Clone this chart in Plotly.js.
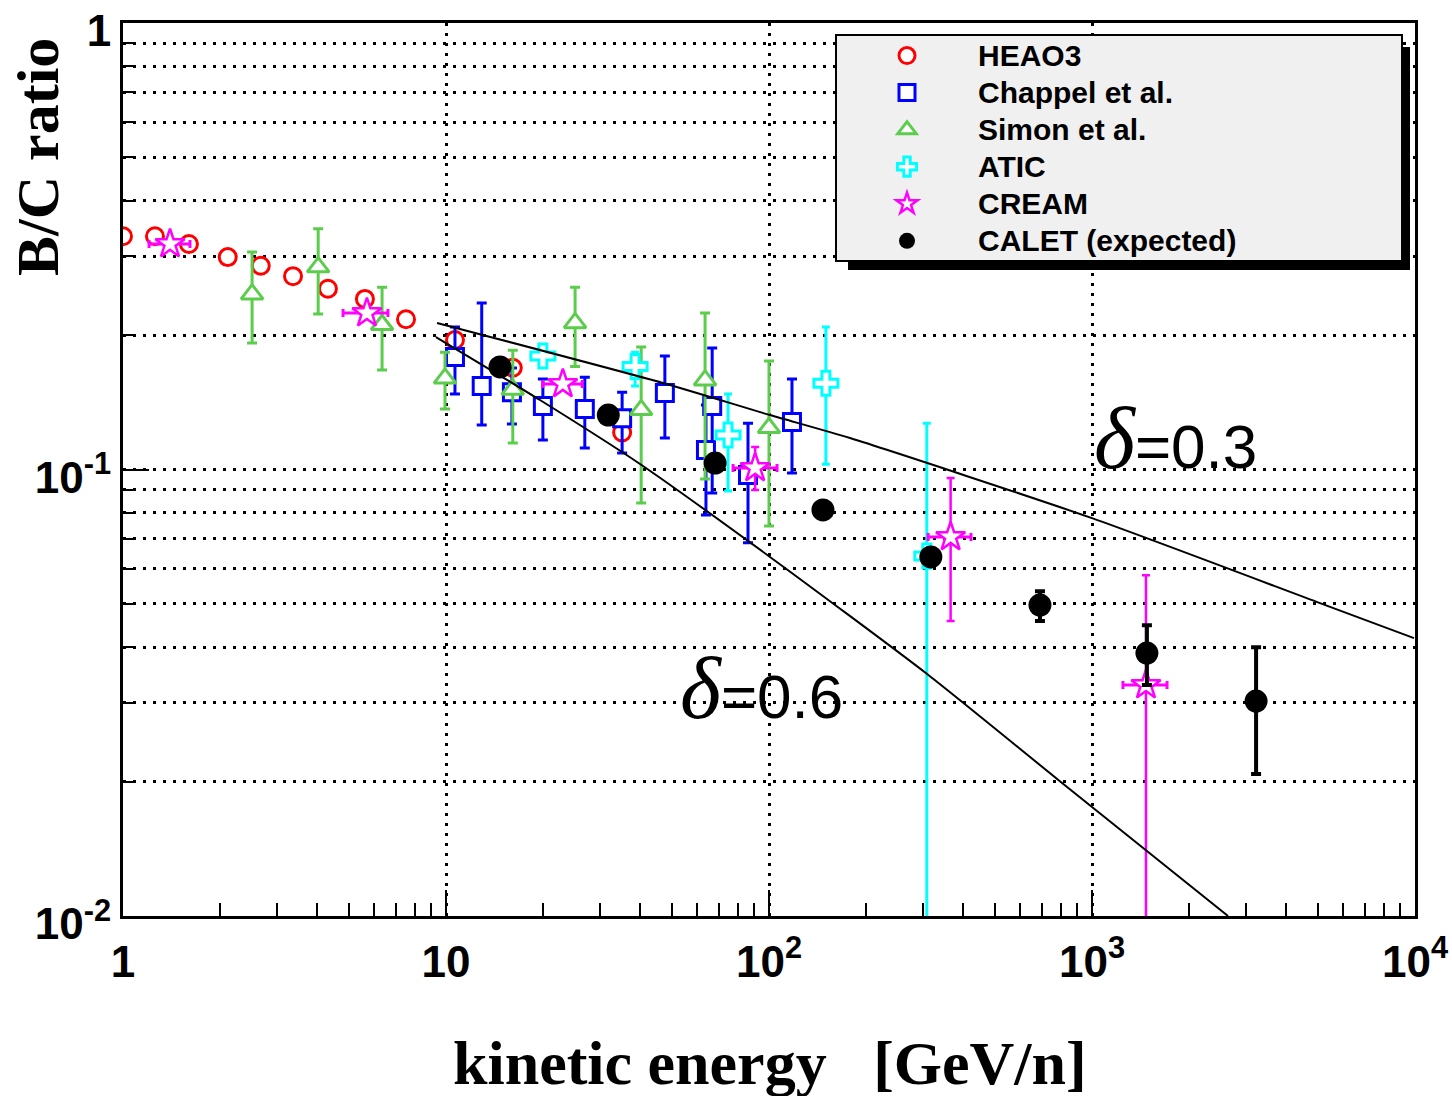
<!DOCTYPE html>
<html>
<head>
<meta charset="utf-8">
<script src="https://cdn.plot.ly/plotly-3.0.1.min.js"></script>
<style>html,body{margin:0;padding:0;background:#fff;}#chart{width:1452px;height:1096px;}</style>
</head>
<body>
<div id="chart"></div>
<script>
// ---------- data ----------
const heaoX = [1.0, 1.256, 1.60, 2.11, 2.67, 3.36, 4.31, 5.61, 7.52, 10.66, 16.1, 35.1];
const heaoY = [0.333, 0.333, 0.320, 0.299, 0.286, 0.271, 0.254, 0.241, 0.217, 0.195, 0.169, 0.121];

const chapX  = [10.66, 12.9, 16.0, 19.95, 26.9, 35.1, 47.6, 66.7, 63.8, 86.1, 117.8];
const chapY  = [0.1786, 0.1538, 0.149, 0.1387, 0.1366, 0.1303, 0.1483, 0.1387, 0.1106, 0.0972, 0.1277];
const chapHi = [0.2085, 0.236, 0.1687, 0.1595, 0.161, 0.149, 0.1795, 0.187, 0.1394, 0.127, 0.1595];
const chapLo = [0.1476, 0.1258, 0.1264, 0.1164, 0.1117, 0.1089, 0.1177, 0.0886, 0.0791, 0.0685, 0.0982];

const simonX  = [2.51, 4.02, 6.34, 9.93, 16.1, 25.1, 40.2, 63.4, 100];
const simonY  = [0.247, 0.284, 0.211, 0.160, 0.151, 0.213, 0.136, 0.1585, 0.124];
const simonHi = [0.307, 0.346, 0.256, 0.183, 0.185, 0.256, 0.188, 0.224, 0.175];
const simonLo = [0.192, 0.223, 0.167, 0.1366, 0.1146, 0.170, 0.0841, 0.0952, 0.0747];

const aticX  = [19.95, 38.5, 74.7, 150, 308];
const aticY  = [0.1795, 0.170, 0.1194, 0.156, 0.064];
const aticHi = [0.1795, 0.183, 0.1476, 0.2085, 0.127];
const aticLo = [0.1795, 0.1538, 0.0895, 0.1028, 0.001];

const creamX   = [1.398, 5.69, 23.0, 90.6, 365, 1469];
const creamY   = [0.320, 0.224, 0.1554, 0.1008, 0.0706, 0.0329];
const creamXLo = [1.204, 4.80, 19.95, 77.4, 311, 1247];
const creamXHi = [1.612, 6.61, 26.4, 105.9, 422, 1707];
const creamHi  = [0.320, 0.224, 0.1554, 0.1123, 0.0957, 0.058];
const creamLo  = [0.320, 0.224, 0.1554, 0.090, 0.0458, 0.001];

const caletX  = [14.7, 31.8, 68.1, 146.9, 317, 690, 1479, 3221];
const caletY  = [0.1697, 0.1324, 0.1034, 0.0812, 0.0637, 0.0497, 0.0388, 0.0303];
const caletHi = [0.1697, 0.1324, 0.1034, 0.0812, 0.0637, 0.0534, 0.0448, 0.0400];
const caletLo = [0.1697, 0.1324, 0.1034, 0.0812, 0.0637, 0.0458, 0.0329, 0.0208];

const d03X = [9.38, 46.97, 100.7, 178.1, 1000, 5080, 9929];
const d03Y = [0.2129, 0.1562, 0.1324, 0.1176, 0.0778, 0.0502, 0.0419];
const d06X = [9.31, 19.54, 39.87, 100.7, 310.7, 784.8, 2637];
const d06Y = [0.1980, 0.1431, 0.1029, 0.0637, 0.0347, 0.0202, 0.0100];

const legendNames = ['HEAO3', 'Chappel et al.', 'Simon et al.', 'ATIC', 'CREAM', 'CALET (expected)'];
const xTickVals = [1, 10, 100, 1000, 10000];
const xTickText = ['1', '10', '10<sup>2</sup>', '10<sup>3</sup>', '10<sup>4</sup>'];
const yTickVals = [0.01, 0.1, 1];
const yTickText = ['10<sup>-2</sup>', '10<sup>-1</sup>', '1'];
const curveLabels = ['=0.3', '=0.6'];

// ---------- helpers ----------
const up = (hi, v) => hi.map((h, i) => h - v[i]);
const dn = (lo, v) => lo.map((l, i) => v[i] - l);
function minorVals(from, to) {
  const out = [];
  for (let e = from; e < to; e++) for (let k = 2; k <= 9; k++) out.push(k * Math.pow(10, e));
  return out;
}
// plot area in pixels: left 123, right 1415, top 23, bottom 916
const PL = 123, PR = 1415, PT = 23, PB = 916;
const px = x => (x - PL) / (PR - PL);
const py = y => 1 - (y - PT) / (PB - PT);
const legName = s => '<span style="font-size:30px">' + s + '</span>';

const errStyle = (color, th, w) => ({type: 'data', symmetric: false, color: color, thickness: th, width: w});

const traces = [
  {x: heaoX, y: heaoY, name: legName(legendNames[0]), mode: 'markers', type: 'scatter',
   marker: {symbol: 'circle', size: 17, color: '#ffffff', line: {color: '#ff0000', width: 3}}},
  {x: chapX, y: chapY, name: legName(legendNames[1]), mode: 'markers', type: 'scatter',
   error_y: Object.assign(errStyle('#0000ff', 3, 5), {array: up(chapHi, chapY), arrayminus: dn(chapLo, chapY)}),
   marker: {symbol: 'square', size: 17, color: '#ffffff', line: {color: '#0000ff', width: 3}}},
  {x: simonX, y: simonY, name: legName(legendNames[2]), mode: 'markers', type: 'scatter',
   error_y: Object.assign(errStyle('#5ccc4c', 3, 5), {array: up(simonHi, simonY), arrayminus: dn(simonLo, simonY)}),
   marker: {symbol: 'triangle-up', size: 19, color: '#ffffff', line: {color: '#5ccc4c', width: 3}}},
  {x: aticX, y: aticY, name: legName(legendNames[3]), mode: 'markers', type: 'scatter',
   error_y: Object.assign(errStyle('#00ffff', 3, 4), {array: up(aticHi, aticY), arrayminus: dn(aticLo, aticY)}),
   marker: {symbol: 'cross', size: 20, color: '#ffffff', line: {color: '#00ffff', width: 3}}},
  {x: creamX, y: creamY, name: legName(legendNames[4]), mode: 'markers', type: 'scatter',
   error_y: Object.assign(errStyle('#ff00ff', 2.5, 4), {array: up(creamHi, creamY), arrayminus: dn(creamLo, creamY)}),
   error_x: Object.assign(errStyle('#ff00ff', 3, 4), {array: up(creamXHi, creamX), arrayminus: dn(creamXLo, creamX)}),
   marker: {symbol: 'star', size: 22, color: '#ffffff', line: {color: '#ff00ff', width: 2.5}}},
  {x: caletX, y: caletY, name: legName(legendNames[5]), mode: 'markers', type: 'scatter',
   error_y: Object.assign(errStyle('#000000', 4, 5), {array: up(caletHi, caletY), arrayminus: dn(caletLo, caletY)}),
   marker: {symbol: 'circle', size: 23, color: '#000000'}},
  {x: d03X, y: d03Y, mode: 'lines', type: 'scatter', showlegend: false, hoverinfo: 'skip',
   line: {color: '#000000', width: 2, shape: 'spline', smoothing: 0.6}},
  {x: d06X, y: d06Y, mode: 'lines', type: 'scatter', showlegend: false, hoverinfo: 'skip',
   line: {color: '#000000', width: 2, shape: 'spline', smoothing: 0.6}}
];

const tickFont = {family: 'Liberation Sans, Arial, sans-serif', size: 44, color: '#000', weight: 700};
const titleFont = {family: 'Liberation Serif, Times New Roman, serif', size: 62, color: '#000', weight: 700};
const deltaText = t => '<span style="font-family:Liberation Serif;font-style:italic;font-size:88px">δ</span>' + t;
const gridDash = '3px,7px';

const layout = {
  width: 1452, height: 1096,
  paper_bgcolor: '#ffffff', plot_bgcolor: '#ffffff',
  margin: {l: PL, r: 1452 - PR, t: PT, b: 1096 - PB, pad: 0},
  showlegend: true,
  xaxis: {
    type: 'log', range: [0, 4], tickmode: 'array', tickvals: xTickVals, ticktext: xTickText,
    tickfont: tickFont, ticks: 'inside', ticklen: 26, tickwidth: 2, tickcolor: '#000',
    ticklabelstandoff: 5, ticklabeloverflow: 'allow',
    showline: true, linewidth: 3, linecolor: '#000', mirror: true,
    showgrid: true, gridcolor: '#000', gridwidth: 3, griddash: gridDash,
    minor: {tickmode: 'array', tickvals: minorVals(0, 4), ticks: 'inside', ticklen: 13, tickwidth: 2,
            tickcolor: '#000', showgrid: false},
    zeroline: false
  },
  yaxis: {
    type: 'log', range: [-2, 0], tickmode: 'array', tickvals: yTickVals, ticktext: yTickText,
    tickfont: tickFont, ticks: 'inside', ticklen: 26, tickwidth: 2, tickcolor: '#000',
    ticklabelstandoff: 0, ticklabelshift: 8, ticklabeloverflow: 'allow',
    showline: true, linewidth: 3, linecolor: '#000', mirror: true,
    showgrid: true, gridcolor: '#000', gridwidth: 3, griddash: gridDash,
    minor: {tickmode: 'array', tickvals: minorVals(-2, 0), ticks: 'inside', ticklen: 13, tickwidth: 2,
            tickcolor: '#000', showgrid: true, gridcolor: '#000', gridwidth: 3, griddash: gridDash},
    zeroline: false
  },
  legend: {
    x: px(836), y: py(32), xanchor: 'left', yanchor: 'top',
    bgcolor: 'rgba(0,0,0,0)', borderwidth: 0, itemwidth: 132,
    font: {family: 'Liberation Sans, Arial, sans-serif', size: 26.2, color: '#000', weight: 700},
    traceorder: 'normal', itemclick: false
  },
  shapes: [
    {type: 'rect', xref: 'paper', yref: 'paper', layer: 'above',
     x0: px(848), x1: px(1410), y0: py(270), y1: py(47), fillcolor: '#000', line: {width: 0}},
    {type: 'rect', xref: 'paper', yref: 'paper', layer: 'above',
     x0: px(836), x1: px(1402), y0: py(261), y1: py(35), fillcolor: '#f0f0f0', line: {color: '#000', width: 2}}
  ],
  annotations: [
    {xref: 'paper', yref: 'paper', x: px(38), y: py(157), text: 'B/C ratio', textangle: -90,
     showarrow: false, xanchor: 'center', yanchor: 'middle', font: Object.assign({}, titleFont, {size: 60})},
    {xref: 'paper', yref: 'paper', x: px(770), y: py(1063), text: 'kinetic energy\u00a0\u00a0\u00a0[GeV/n]',
     showarrow: false, xanchor: 'center', yanchor: 'middle', font: titleFont},
    {xref: 'paper', yref: 'paper', x: px(1175), y: py(438), text: deltaText(curveLabels[0]),
     showarrow: false, xanchor: 'center', yanchor: 'middle',
     font: {family: 'Liberation Sans, Arial, sans-serif', size: 62, color: '#000'}},
    {xref: 'paper', yref: 'paper', x: px(761), y: py(688), text: deltaText(curveLabels[1]),
     showarrow: false, xanchor: 'center', yanchor: 'middle',
     font: {family: 'Liberation Sans, Arial, sans-serif', size: 62, color: '#000'}}
  ]
};

Plotly.newPlot('chart', traces, layout, {displayModeBar: false, staticPlot: true});
</script>
</body>
</html>
